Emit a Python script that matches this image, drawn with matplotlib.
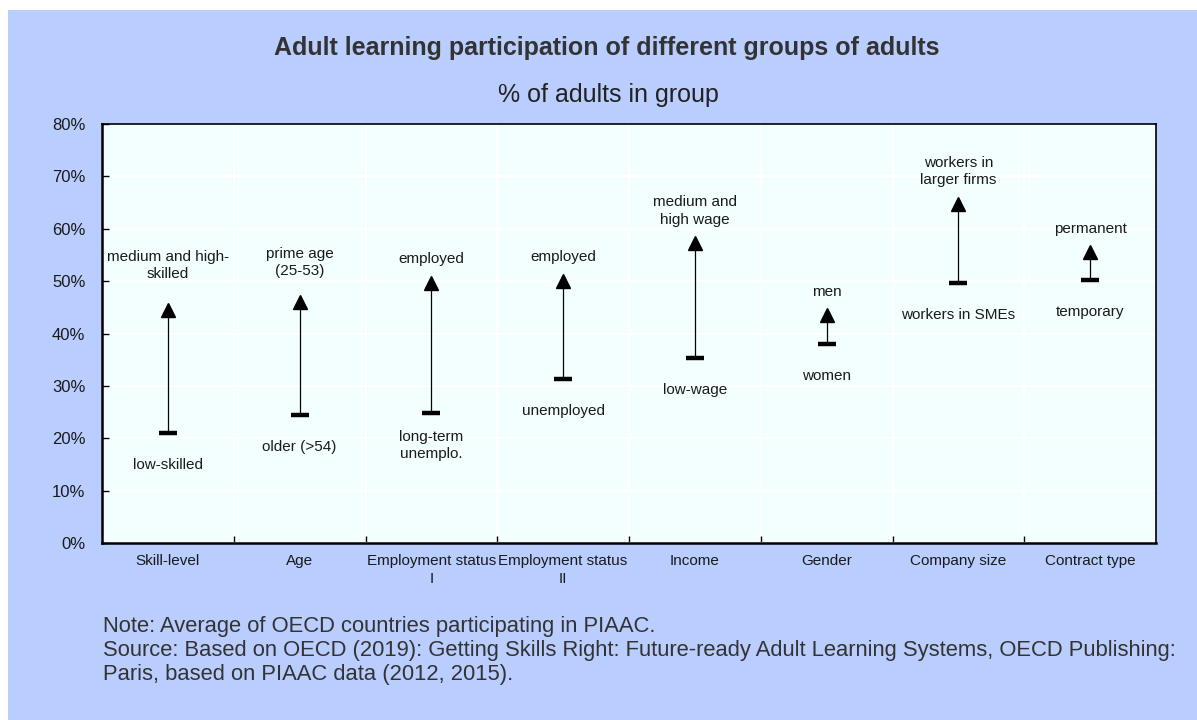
import numpy as np
import matplotlib.pyplot as plt
from matplotlib import rcParams
from matplotlib.patches import Rectangle

rcParams['font.family'] = ['Liberation Sans', 'DejaVu Sans']

# data (% of adults in group)
groups = ['Skill-level', 'Age', 'Employment status\nI', 'Employment status\nII',
          'Income', 'Gender', 'Company size', 'Contract type']
low_values = [21.0, 24.4, 24.8, 31.3, 35.4, 38.0, 49.7, 50.3]
high_values = [44.4, 46.1, 49.7, 50.1, 57.2, 43.5, 64.7, 55.5]
low_labels = ['low-skilled', 'older (>54)', 'long-term\nunemplo.', 'unemployed',
              'low-wage', 'women', 'workers in SMEs', 'temporary']
high_labels = ['medium and high-\nskilled', 'prime age\n(25-53)', 'employed', 'employed',
               'medium and\nhigh wage', 'men', 'workers in\nlarger firms', 'permanent']

# label offsets in points (layout only)
high_pad = [21, 17, 12, 12, 12, 12, 12, 12]
low_pad = [-18, -18, -12, -18, -18, -18, -18, -18]

panel_blue = '#B9CDFE'
plot_bg = '#F3FFFF'
text_col = '#1a1a1a'

fig = plt.figure(figsize=(11.97, 7.2), dpi=100)
fig.patches.append(Rectangle((8 / 1197, 0), 1 - 8 / 1197, 1 - 10 / 720,
                             transform=fig.transFigure, facecolor=panel_blue,
                             edgecolor='none', zorder=-10))

ax = fig.add_axes([102 / 1197, 1 - 543 / 720, (1156 - 102) / 1197, (543 - 124) / 720])
ax.set_facecolor(plot_bg)

x = np.arange(len(groups))
ax.vlines(x, low_values, high_values, color='black', linewidth=0.9, zorder=3)
ax.plot(x, high_values, linestyle='none', marker='^', markersize=9.5,
        color='black', zorder=4)
ax.plot(x, low_values, linestyle='none', marker='_', markersize=13,
        markeredgewidth=3.2, color='black', zorder=4)

for i in range(len(groups)):
    ax.annotate(high_labels[i], (x[i], high_values[i]), xytext=(0, high_pad[i]),
                textcoords='offset points', ha='center', va='bottom',
                fontsize=11, color=text_col, linespacing=1.3)
    ax.annotate(low_labels[i], (x[i], low_values[i]), xytext=(0, low_pad[i]),
                textcoords='offset points', ha='center', va='top',
                fontsize=11, color=text_col, linespacing=1.3)

ax.set_xlim(-0.5, len(groups) - 0.5)
ax.set_ylim(0, 80)
ax.set_yticks(np.arange(0, 81, 10))
ax.set_yticklabels([f'{v}%' for v in range(0, 81, 10)])
ax.set_xticks(x)
ax.set_xticklabels(groups, linespacing=1.35)
ax.set_xticks(np.arange(0.5, len(groups) - 1), minor=True)
ax.tick_params(axis='x', which='major', length=0, labelsize=11, pad=8)
ax.tick_params(axis='x', which='minor', direction='in', length=5, width=1)
ax.tick_params(axis='y', direction='in', length=5, width=1, labelsize=12, pad=12)
ax.tick_params(axis='both', colors='black', labelcolor=text_col)

ax.grid(axis='y', color='white', linewidth=1.5)
ax.grid(axis='x', which='minor', color='white', linewidth=1.5)
ax.set_axisbelow(True)
for side in ['left', 'bottom']:
    ax.spines[side].set_linewidth(1.8)
for side in ['top', 'right']:
    ax.spines[side].set_linewidth(1.2)

fig.text(607 / 1197, 1 - 48 / 720, 'Adult learning participation of different groups of adults',
         ha='center', va='center', fontsize=18, fontweight='bold', color='#333333')
fig.text(608 / 1197, 1 - 95 / 720, '% of adults in group', ha='center', va='center',
         fontsize=18, color='#222222')

note = ('Note: Average of OECD countries participating in PIAAC.\n'
        'Source: Based on OECD (2019): Getting Skills Right: Future-ready Adult Learning Systems, OECD Publishing:\n'
        'Paris, based on PIAAC data (2012, 2015).')
fig.text(103 / 1197, 1 - 616 / 720, note, ha='left', va='top', fontsize=15.8,
         color='#333333', linespacing=1.2)

plt.savefig('out.png', dpi=100)
